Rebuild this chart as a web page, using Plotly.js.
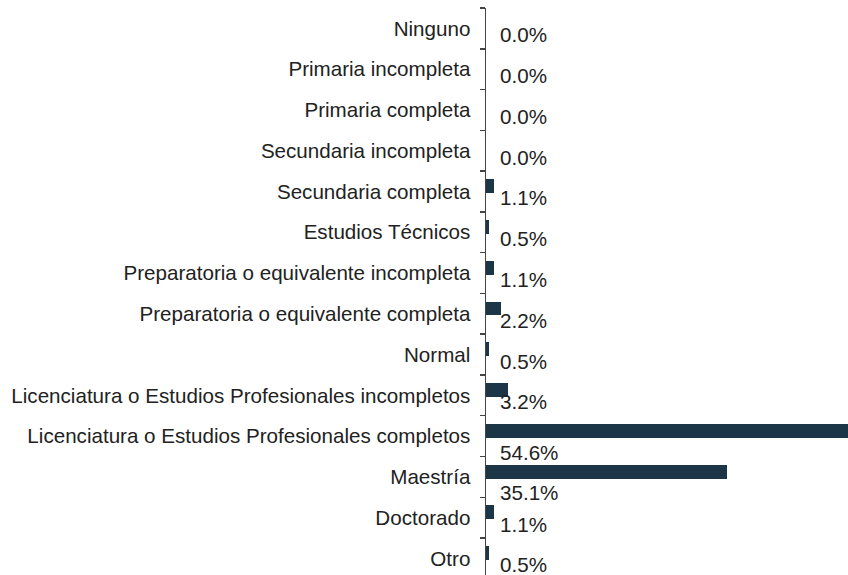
<!DOCTYPE html>
<html>
<head>
<meta charset="utf-8">
<script src="https://cdn.plot.ly/plotly-3.0.1.min.js"></script>
<style>html,body{margin:0;padding:0;background:#fff;}#chart{width:848px;height:575px;}</style>
</head>
<body>
<div id="chart"></div>
<script>
const categories = [
  "Ninguno",
  "Primaria incompleta",
  "Primaria completa",
  "Secundaria incompleta",
  "Secundaria completa",
  "Estudios Técnicos",
  "Preparatoria o equivalente incompleta",
  "Preparatoria o equivalente completa",
  "Normal",
  "Licenciatura o Estudios Profesionales incompletos",
  "Licenciatura o Estudios Profesionales completos",
  "Maestría",
  "Doctorado",
  "Otro"
];
const values = [0.0, 0.0, 0.0, 0.0, 1.1, 0.5, 1.1, 2.2, 0.5, 3.2, 54.6, 35.1, 1.1, 0.5];
const valueLabels = values.map(v => v.toFixed(1) + "%");

const FONT = "Liberation Sans, Arial, sans-serif";
const barColor = "#1c3648";

const trace = {
  type: "bar",
  orientation: "h",
  y: categories,
  x: values,
  width: 0.34,
  offset: -0.30,
  marker: {color: barColor, line: {width: 0}},
  hoverinfo: "skip",
  cliponaxis: true
};

const annotations = categories.map((c, i) => ({
  xref: "x", yref: "y",
  x: 0, y: c,
  text: valueLabels[i],
  showarrow: false,
  xanchor: "left",
  yanchor: "middle",
  xshift: 12,
  yshift: values[i] > 10 ? -16 : -6.5,
  font: {family: FONT, size: 20.6, color: "#222"}
}));

const layout = {
  width: 848, height: 575,
  margin: {l: 486, r: 0, t: 8, b: 0, pad: 0},
  paper_bgcolor: "#fff",
  plot_bgcolor: "#fff",
  showlegend: false,
  bargap: 0,
  xaxis: {
    range: [0, 52.8],
    visible: false,
    fixedrange: true
  },
  yaxis: {
    type: "category",
    range: [13.407, -0.5],
    showline: true,
    linecolor: "#444",
    linewidth: 1.5,
    ticks: "outside",
    ticklen: 5,
    tickwidth: 1.5,
    tickcolor: "#444",
    tickson: "boundaries",
    ticklabelstandoff: 10,
    showgrid: false,
    zeroline: false,
    tickfont: {family: FONT, size: 20.6, color: "#222"},
    fixedrange: true
  },
  annotations: annotations
};

Plotly.newPlot("chart", [trace], layout, {staticPlot: true, displayModeBar: false});
</script>
</body>
</html>
